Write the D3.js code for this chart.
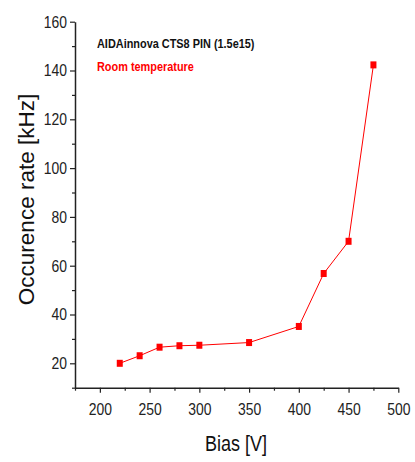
<!DOCTYPE html>
<html>
<head>
<meta charset="utf-8">
<script src="https://cdn.jsdelivr.net/npm/d3@7"></script>
<style>
  html, body { margin: 0; padding: 0; background: #fff; }
  svg { display: block; }
  text { font-family: "Liberation Sans", Arial, sans-serif; }
</style>
</head>
<body>
<svg id="chart" width="415" height="462"></svg>
<script>
// Occurrence rate versus bias voltage
const biasValues = [220, 240, 260, 280, 300, 350, 400, 425, 450, 475];
const rateValues = [20.0, 23.1, 26.6, 27.2, 27.4, 28.5, 35.1, 56.8, 70.0, 142.3];
const xMajorTicks = [200, 250, 300, 350, 400, 450, 500];
const xMinorTicks = [175, 225, 275, 325, 375, 425, 475];
const yMajorTicks = [20, 40, 60, 80, 100, 120, 140, 160];
const yMinorTicks = [10, 30, 50, 70, 90, 110, 130, 150];
const titleLine = "AIDAinnova CTS8 PIN (1.5e15)";
const conditionLine = "Room temperature";

const svg = d3.select("#chart");
const plotLeft = 75, plotRight = 398.3, plotTop = 21.7, plotBottom = 387.7;
const squeeze = 0.82; // horizontal compression giving a condensed face

const x = d3.scaleLinear().domain([175, 500]).range([plotLeft, plotRight]);
const y = d3.scaleLinear().domain([10, 160]).range([plotBottom, plotTop]);
const axisColor = "#222";

// condensed text: scale horizontally around the text's own anchor x
function condensed(sel, ax) {
  sel.attr("x", ax / squeeze).attr("transform", `scale(${squeeze},1)`);
}

// x axis: major ticks with labels, minor ticks unlabeled
const gx = svg.append("g").attr("transform", `translate(0,${plotBottom})`);
gx.call(d3.axisBottom(x).tickValues(xMajorTicks).tickSize(5).tickPadding(10).tickSizeOuter(0));
gx.append("g").call(d3.axisBottom(x).tickValues(xMinorTicks).tickSize(3).tickFormat("").tickSizeOuter(0))
  .select(".domain").remove();

const gy = svg.append("g").attr("transform", `translate(${plotLeft},0)`);
gy.call(d3.axisLeft(y).tickValues(yMajorTicks).tickSize(5).tickPadding(3).tickSizeOuter(0));
gy.append("g").call(d3.axisLeft(y).tickValues(yMinorTicks).tickSize(3).tickFormat("").tickSizeOuter(0))
  .select(".domain").remove();

svg.selectAll(".domain").attr("stroke", axisColor).attr("stroke-width", 1.5);
svg.selectAll(".tick line").attr("stroke", axisColor).attr("stroke-width", 1.2);
svg.selectAll(".tick text")
  .attr("font-family", "Liberation Sans, Arial, sans-serif")
  .attr("font-size", 17)
  .attr("fill", "#222");
gx.selectAll(".tick text").call(condensed, 0);
gy.selectAll(".tick text").call(condensed, -8);

// axis titles
svg.append("text")
  .attr("y", 451.5)
  .attr("text-anchor", "middle")
  .attr("font-size", 22)
  .attr("fill", "#111")
  .text("Bias [V]")
  .call(condensed, 236);

svg.append("text")
  .attr("transform", `translate(34,${(92 + 307) / 2}) rotate(-90)`)
  .attr("text-anchor", "middle")
  .attr("font-size", 22.5)
  .attr("fill", "#111")
  .text("Occurence rate [kHz]");

// annotations
svg.append("text")
  .attr("y", 48.5)
  .attr("font-size", 13.3)
  .attr("font-weight", "bold")
  .attr("fill", "#111")
  .text(titleLine)
  .call(condensed, 97);

svg.append("text")
  .attr("y", 70.7)
  .attr("font-size", 13.3)
  .attr("font-weight", "bold")
  .attr("fill", "#ff0000")
  .text(conditionLine)
  .call(condensed, 97);

// data line and square markers
const pts = biasValues.map((b, i) => ({ b, r: rateValues[i] }));
svg.append("path")
  .datum(pts)
  .attr("fill", "none")
  .attr("stroke", "#ff0000")
  .attr("stroke-width", 1)
  .attr("d", d3.line().x(d => x(d.b)).y(d => y(d.r)));

svg.append("g").selectAll("rect")
  .data(pts)
  .join("rect")
  .attr("x", d => x(d.b) - 3)
  .attr("y", d => y(d.r) - 3.5)
  .attr("width", 6)
  .attr("height", 7)
  .attr("fill", "#ff0000");
</script>
</body>
</html>
